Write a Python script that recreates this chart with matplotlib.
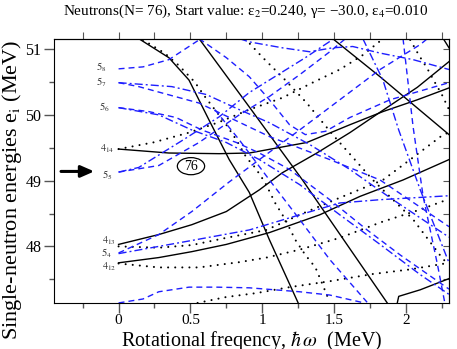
import matplotlib
matplotlib.use("Agg")
import matplotlib.pyplot as plt
from matplotlib.patches import Ellipse

plt.rcParams['mathtext.fontset'] = 'stix'
plt.rcParams['font.family'] = ['Liberation Serif', 'DejaVu Serif']

# ---- curves (x = hbar*omega [MeV], y = e_i [MeV]) ----
# black solid
sA_x = [0.14, 0.35, 0.49, 0.63, 0.77, 0.91, 1.05, 1.25]
sA_y = [51.16, 50.87, 50.53, 49.92, 49.32, 48.82, 48.10, 47.14]
sB_x = [0.56, 0.91, 1.28, 1.87]
sB_y = [51.16, 50.12, 49.01, 47.14]
sC_x = [1.49, 1.82, 2.30]
sC_y = [51.16, 50.58, 49.70]
sD_x = [2.26, 2.30]
sD_y = [51.16, 51.02]
sE1_x = [0.00, 0.28, 0.51, 0.75, 0.98, 1.14, 1.38, 1.61, 1.84, 2.08, 2.30]
sE1_y = [48.03, 48.18, 48.33, 48.53, 48.86, 49.12, 49.42, 49.73, 50.07, 50.42, 50.81]
sE2_x = [0.00, 0.35, 0.70, 0.91, 1.31, 1.61, 1.84, 2.08, 2.30]
sE2_y = [49.48, 49.42, 49.41, 49.42, 49.58, 49.85, 50.05, 50.23, 50.41]
sE3_x = [0.00, 0.28, 0.51, 0.75, 1.05, 1.40, 1.68, 1.98, 2.30]
sE3_y = [47.75, 47.83, 47.92, 48.03, 48.21, 48.48, 48.76, 49.01, 49.32]
sF_x = [1.94, 1.95, 2.10, 2.30]
sF_y = [47.14, 47.24, 47.34, 47.51]

# black dotted
dA_x = [0.17, 0.32, 0.42, 0.53, 0.60, 0.67, 0.74, 0.82, 0.89, 0.95, 1.02, 1.09, 1.16, 1.23, 1.30, 1.37, 1.42, 1.47]
dA_y = [51.14, 50.94, 50.75, 50.50, 50.28, 50.08, 49.88, 49.62, 49.35, 49.20, 48.97, 48.66, 48.41, 48.10, 47.87, 47.68, 47.42, 47.15]
dT_x = [0.88, 1.00, 1.16, 1.31, 1.49, 1.77, 2.05, 2.25, 2.30]
dT_y = [51.16, 50.88, 50.53, 50.18, 49.70, 49.01, 48.41, 47.83, 47.71]
dR_x = [2.03, 2.09, 2.15, 2.20, 2.25, 2.30]
dR_y = [51.14, 50.91, 50.70, 50.50, 50.31, 50.08]
d14_x = [0.00, 0.24, 0.49, 0.70, 0.91, 1.14, 1.35, 1.54, 1.70, 1.83]
d14_y = [49.48, 49.58, 49.73, 49.89, 50.08, 50.26, 50.49, 50.69, 50.91, 51.14]
d13_x = [0.00, 0.28, 0.51, 0.75, 1.03, 1.26, 1.54, 1.84, 2.03, 2.26, 2.30]
d13_y = [48.00, 47.98, 48.02, 48.13, 48.25, 48.48, 48.74, 49.01, 49.32, 49.70, 49.73]
d12_x = [0.00, 0.28, 0.56, 0.84, 1.03, 1.26, 1.54, 1.83, 2.10, 2.30]
d12_y = [47.74, 47.68, 47.68, 47.76, 47.83, 47.95, 48.13, 48.37, 48.56, 48.72]
dH_x = [0.55, 0.75, 0.96, 1.19, 1.47, 1.77, 2.03, 2.30]
dH_y = [47.14, 47.23, 47.29, 47.38, 47.47, 47.58, 47.65, 47.75]

# blue dashed
b58_x = [0.00, 0.17, 0.35, 0.56]
b58_y = [50.70, 50.73, 50.84, 51.14]
b57_x = [0.00, 0.14, 0.56, 1.05, 1.47, 1.82, 2.30]
b57_y = [50.49, 50.43, 50.18, 49.67, 49.32, 49.01, 48.30]
b56_x = [0.00, 0.21, 0.40, 0.58, 0.82, 0.98, 1.19, 1.47, 1.73, 1.96, 2.30]
b56_y = [50.11, 50.05, 49.96, 49.77, 49.58, 49.42, 49.17, 48.71, 48.25, 47.87, 47.35]
b55_x = [0.00, 0.28, 0.56, 0.84, 1.05, 1.26, 1.47, 1.58]
b55_y = [49.13, 49.23, 49.58, 50.00, 50.28, 50.61, 50.96, 51.16]
b54_x = [0.00, 0.28, 0.51, 0.77, 0.98, 1.26, 1.54, 1.82, 2.10, 2.15]
b54_y = [47.90, 48.18, 48.53, 48.98, 49.32, 49.77, 50.23, 50.69, 51.07, 51.16]
bT_x = [0.56, 0.75, 0.91, 1.05, 1.19, 1.30, 1.44, 1.61, 1.89, 2.30]
bT_y = [51.16, 50.87, 50.58, 50.23, 49.85, 49.70, 49.75, 49.96, 50.23, 50.49]
bM_x = [0.67, 0.84, 1.05, 1.26, 1.47, 1.73]
bM_y = [50.08, 49.62, 49.01, 48.41, 47.80, 47.15]
bR_x = [1.98, 2.05, 2.12, 2.22, 2.27]
bR_y = [51.16, 49.82, 48.76, 47.72, 47.15]
bG_x = [0.00, 0.17, 0.28, 0.49, 0.68, 0.91, 1.26, 1.47, 1.71]
bG_y = [47.14, 47.20, 47.31, 47.38, 47.38, 47.37, 47.31, 47.26, 47.14]

# blue dash-dot
c57_x = [0.00, 0.37, 0.61, 0.84, 1.05, 1.33, 1.61, 1.89, 2.30]
c57_y = [50.49, 50.43, 50.31, 50.08, 49.88, 49.55, 49.17, 48.74, 48.14]
c56_x = [0.00, 0.28, 0.51, 0.75, 0.98, 1.26, 1.54, 1.82, 2.10, 2.30]
c56_y = [50.11, 50.00, 49.77, 49.58, 49.32, 48.94, 48.48, 48.03, 47.57, 47.27]
c55_x = [0.00, 0.14, 0.45, 0.70, 0.91, 1.05, 1.30, 1.50]
c55_y = [49.13, 49.20, 49.62, 49.97, 50.34, 50.53, 50.87, 51.16]
c54_x = [0.00, 0.51, 0.91, 1.26, 1.54, 1.82, 2.30]
c54_y = [47.89, 48.09, 48.25, 48.48, 48.66, 48.71, 48.77]
cTop_x = [0.84, 0.91, 1.14, 1.33, 1.49, 1.63, 1.82, 2.05, 2.30]
cTop_y = [51.16, 51.11, 51.02, 50.96, 51.02, 51.04, 50.94, 50.84, 50.69]
cR_x = [1.70, 1.84, 1.95, 2.10, 2.30]
cR_y = [51.16, 50.53, 49.77, 48.86, 47.75]

# labels at omega = 0
lab_text = ['$5_8$', '$5_7$', '$5_6$', '$4_{14}$', '$5_5$', '$4_{13}$', '$5_4$', '$4_{12}$']
lab_x = [-0.085, -0.085, -0.058, -0.030, -0.044, -0.016, -0.050, -0.016]
lab_y = [50.72, 50.50, 50.12, 49.48, 49.08, 48.08, 47.90, 47.69]

fig = plt.figure(figsize=(4.57, 3.49), dpi=100)
ax = fig.add_axes([0.118, 0.132, 0.8645, 0.7555])

lw = 1.0
BLUE = '#1e1eff'
solid = [(sA_x, sA_y), (sB_x, sB_y), (sC_x, sC_y), (sD_x, sD_y), (sE1_x, sE1_y),
         (sE2_x, sE2_y), (sE3_x, sE3_y), (sF_x, sF_y)]
for x, y in solid:
    ax.plot(x, y, color='black', lw=lw)
dotted = [(dA_x, dA_y), (dT_x, dT_y), (dR_x, dR_y), (d14_x, d14_y), (d13_x, d13_y),
          (d12_x, d12_y), (dH_x, dH_y)]
for x, y in dotted:
    ax.plot(x, y, color='black', lw=1.5, linestyle=(0, (0.01, 3.4)), dash_capstyle='round')
dashed = [(b58_x, b58_y), (b57_x, b57_y), (b56_x, b56_y), (b55_x, b55_y), (b54_x, b54_y),
          (bT_x, bT_y), (bM_x, bM_y), (bR_x, bR_y), (bG_x, bG_y)]
for x, y in dashed:
    ax.plot(x, y, color=BLUE, lw=lw, linestyle=(0, (4.3, 2.9)))
dashdot = [(c57_x, c57_y), (c56_x, c56_y), (c55_x, c55_y), (c54_x, c54_y),
           (cTop_x, cTop_y), (cR_x, cR_y)]
for x, y in dashdot:
    ax.plot(x, y, color=BLUE, lw=lw, linestyle=(0, (5.8, 2.2, 1.4, 2.2)))

for t, x, y in zip(lab_text, lab_x, lab_y):
    ax.text(x, y, t, ha='right', va='center', fontsize=7.5, color='#333333')

ax.annotate('', xy=(-0.15, 49.14), xytext=(-0.42, 49.14),
            arrowprops=dict(arrowstyle='-|>,head_length=0.8,head_width=0.35', lw=2.2, color='black'))
ax.add_patch(Ellipse((0.504, 49.22), 0.19, 0.26, fill=True, facecolor='white', lw=0.9,
                     edgecolor='black', zorder=5))
ax.text(0.504, 49.22, '76', ha='center', va='center', fontsize=10, zorder=6)

ax.set_xlim(-0.45, 2.30)
ax.set_ylim(47.14, 51.15)
ax.set_xticks([0, 0.5, 1, 1.5, 2])
ax.set_xticklabels(['0', '0.5', '1', '1.5', '2'])
ax.set_xticks([-0.25, 0.25, 0.75, 1.25, 1.75, 2.25], minor=True)
ax.set_yticks([48, 49, 50, 51])
ax.set_yticks([47.5, 48.5, 49.5, 50.5], minor=True)
ax.tick_params(which='major', direction='out', length=7, width=1, colors='#555555',
               labelcolor='black')
ax.tick_params(which='minor', direction='out', length=3.5, width=1, colors='#555555')
ax.tick_params(axis='x', which='major', labelsize=11, pad=1)
ax.tick_params(axis='y', which='major', labelsize=11.5, pad=2)
sec = ax.secondary_xaxis('top')
sec.set_xticks([-0.25, 0, 0.25, 0.5, 0.75, 1, 1.25, 1.5, 1.75, 2, 2.25])
sec.tick_params(direction='out', length=5, labeltop=False, colors='#555555')
secy = ax.secondary_yaxis('right')
secy.set_yticks([47.5, 48, 48.5, 49, 49.5, 50, 50.5, 51])
secy.tick_params(direction='in', length=4, labelright=False, colors='#555555')

fig.text(0.55, 0.058, r'Rotational freqency, $\hbar\,\omega$  (MeV)', ha='center', va='top',
         fontsize=14.5)
fig.text(0.027, 0.457, r'Single-neutron energies e$_\mathrm{i}$ (MeV)', rotation=90,
         ha='center', va='center', fontsize=16)
fig.text(0.537, 0.968, 'Neutrons(N= 76), Start value: ε$_2$=0.240, γ= −30.0, ε$_4$=0.010',
         ha='center', va='center', fontsize=10.9)

fig.savefig('out.png', dpi=100)
